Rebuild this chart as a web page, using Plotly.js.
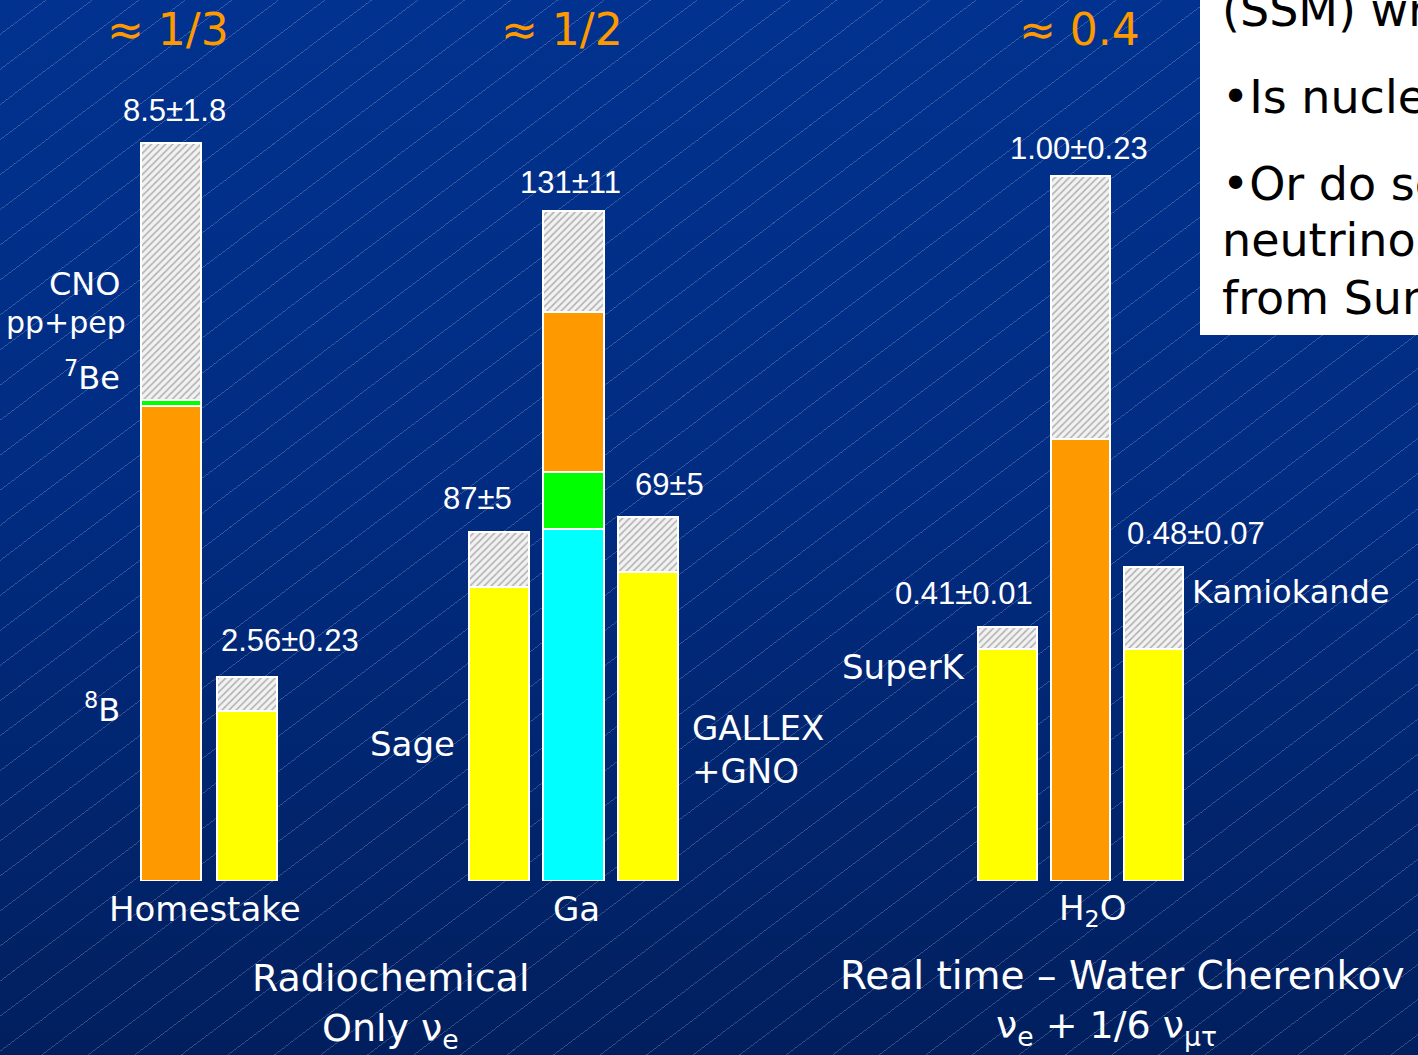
<!DOCTYPE html>
<html><head><meta charset="utf-8">
<script src="https://cdn.plot.ly/plotly-3.0.1.min.js"></script>
<style>
html,body{margin:0;padding:0;width:1418px;height:1055px;overflow:hidden;
background:
 repeating-linear-gradient(143deg, rgba(255,255,255,0) 0px, rgba(255,255,255,0) 27.2px, rgba(255,255,255,0.2) 27.2px, rgba(255,255,255,0.2) 28px),
 linear-gradient(180deg,#01328f 0%,#012c82 45%,#011f5e 100%);}
#chart{width:1418px;height:1055px;}
</style></head><body><div id="chart"></div><script>
// ---- Homestake (chlorine), SNU ----
const clCats = ["SSM", "Homestake"];
const cl8B = [6.62, null];
const cl7Be = [0.08, null];
const clMeasured = [null, 2.37];
const clBand = [3.59, 0.47];
const clLabels = ["8.5±1.8", "2.56±0.23"];

// ---- Gallium (Sage, SSM, GALLEX+GNO), SNU ----
const gaCats = ["Sage", "SSM", "GALLEX+GNO"];
const gaPP = [null, 74.6, null];
const ga7Be = [null, 12.1, null];
const ga8B = [null, 33.9, null];
const gaMeasured = [62.3, null, 65.5];
const gaBand = [11.6, 21.4, 11.6];
const gaLabels = ["87±5", "131±11", "69±5"];

// ---- Water Cherenkov (SuperK, SSM, Kamiokande), ratio to SSM ----
const h2oCats = ["SuperK", "SSM", "Kamiokande"];
const h2o8B = [null, 0.773, null];
const h2oMeasured = [0.406, null, 0.406];
const h2oBand = [0.038, 0.46, 0.143];
const h2oLabels = ["0.41±0.01", "1.00±0.23", "0.48±0.07"];

const ratios = ["≈ 1/3", "≈ 1/2", "≈ 0.4"];

const C = {orange:"#FF9900", green:"#00FF00", cyan:"#00FFFF", yellow:"#FFFF00"};
function bar(cats, vals, color, xa, ya, w, hatched){
  const m = {color: hatched ? "#f2f2f2" : color, line:{color:"#ffffff", width:2}};
  if (hatched) m.pattern = {shape:"/", fgcolor:"#b0b0b0", bgcolor:"#f2f2f2", size:5, solidity:0.3, fillmode:"replace"};
  return {type:"bar", x:cats, y:vals, xaxis:xa, yaxis:ya, width:w, marker:m,
          showlegend:false, hoverinfo:"skip"};
}
const W1 = 0.79, W2 = 0.81, W3 = 0.82;
const data = [
  bar(clCats, cl8B, C.orange, "x", "y", W1),
  bar(clCats, cl7Be, C.green, "x", "y", W1),
  bar(clCats, clMeasured, C.yellow, "x", "y", W1),
  bar(clCats, clBand, null, "x", "y", W1, true),
  bar(gaCats, gaPP, C.cyan, "x2", "y2", W2),
  bar(gaCats, ga7Be, C.green, "x2", "y2", W2),
  bar(gaCats, ga8B, C.orange, "x2", "y2", W2),
  bar(gaCats, gaMeasured, C.yellow, "x2", "y2", W2),
  bar(gaCats, gaBand, null, "x2", "y2", W2, true),
  bar(h2oCats, h2o8B, C.orange, "x3", "y3", W3),
  bar(h2oCats, h2oMeasured, C.yellow, "x3", "y3", W3),
  bar(h2oCats, h2oBand, null, "x3", "y3", W3, true)
];

const PW = 1418, PH = 1055;
const yDom = [(PH - 881) / PH, 1];
function xa(x0, x1, n){ return {domain:[x0/PW, x1/PW], range:[-0.5, n-0.5], visible:false, fixedrange:true}; }
function ya(top, anchor){ return {domain:yDom, range:[0, top], visible:false, fixedrange:true, anchor:anchor}; }

const SANS = "DejaVu Sans, Verdana, sans-serif";
const NUM = "Liberation Sans, Arial, sans-serif";
function ann(text, px, py, size, opts){
  opts = opts || {};
  return {text:text, x:px/PW, y:1 - py/PH, xref:"paper", yref:"paper",
    xanchor:opts.xa || "center", yanchor:"middle", showarrow:false, align:opts.align || "center",
    font:{family:opts.fam || SANS, size:size, color:opts.color || "#ffffff"}};
}
const OR = {color:"#FF9900"};
const BK = "#000000";
const annotations = [
  ann(ratios[0], 168, 30, 44, OR),
  ann(ratios[1], 562, 30, 44, OR),
  ann(ratios[2], 1079, 30, 44, OR),
  ann(clLabels[0], 174, 111, 31, {fam:NUM}),
  ann(clLabels[1], 290, 641, 31, {fam:NUM}),
  ann(gaLabels[0], 478, 498, 31, {fam:NUM}),
  ann(gaLabels[1], 570, 182, 31, {fam:NUM}),
  ann(gaLabels[2], 669, 484, 31, {fam:NUM}),
  ann(h2oLabels[0], 964, 593, 31, {fam:NUM}),
  ann(h2oLabels[1], 1079, 148, 31, {fam:NUM}),
  ann(h2oLabels[2], 1196, 533, 31, {fam:NUM}),
  ann("CNO", 122, 284, 32, {xa:"right"}),
  ann("pp+pep", 128, 322, 30, {xa:"right"}),
  ann("<sup>7</sup>Be", 122, 376, 32, {xa:"right"}),
  ann("<sup>8</sup>B", 122, 708, 32, {xa:"right"}),
  ann("Homestake", 205, 909, 34),
  ann("Sage", 457, 744, 34, {xa:"right"}),
  ann("GALLEX", 690, 728, 34, {xa:"left"}),
  ann("+GNO", 690, 771, 34, {xa:"left"}),
  ann("Ga", 576, 909, 34),
  ann("SuperK", 968, 667, 34, {xa:"right"}),
  ann("Kamiokande", 1190, 592, 32, {xa:"left"}),
  ann("H<sub>2</sub>O", 1092, 910, 34),
  ann("Radiochemical", 390, 978, 38),
  ann("Only ν<sub>e</sub>", 390, 1030, 38),
  ann("Real time – Water Cherenkov", 1122, 975, 39),
  ann("ν<sub>e</sub> + 1/6 ν<sub>μτ</sub>", 1106, 1027, 38),
  ann("(SSM) wrong?", 1220, 10, 46, {xa:"left", color:BK}),
  ann("•Is nuclear physics wrong?", 1220, 97, 46, {xa:"left", color:BK}),
  ann("•Or do something happen to", 1220, 184, 46, {xa:"left", color:BK}),
  ann("neutrinos on their way", 1220, 240, 46, {xa:"left", color:BK}),
  ann("from Sun to Earth?", 1220, 298, 46, {xa:"left", color:BK})
];

const layout = {
  width:PW, height:PH, margin:{l:0, r:0, t:0, b:0},
  paper_bgcolor:"rgba(0,0,0,0)", plot_bgcolor:"rgba(0,0,0,0)",
  barmode:"stack", showlegend:false,
  xaxis: xa(133, 285, 2), yaxis: ya(881/71.75, "x"),
  xaxis2: xa(462, 685, 3), yaxis2: ya(881/4.72, "x2"),
  xaxis3: xa(971, 1190, 3), yaxis3: ya(881/572, "x3"),
  shapes:[{type:"rect", xref:"paper", yref:"paper", x0:1200/PW, x1:1.02, y0:1 - 335/PH, y1:1.02,
           fillcolor:"#ffffff", line:{width:0}, layer:"below"}],
  annotations: annotations
};
Plotly.newPlot("chart", data, layout, {displayModeBar:false, staticPlot:true});
</script></body></html>
